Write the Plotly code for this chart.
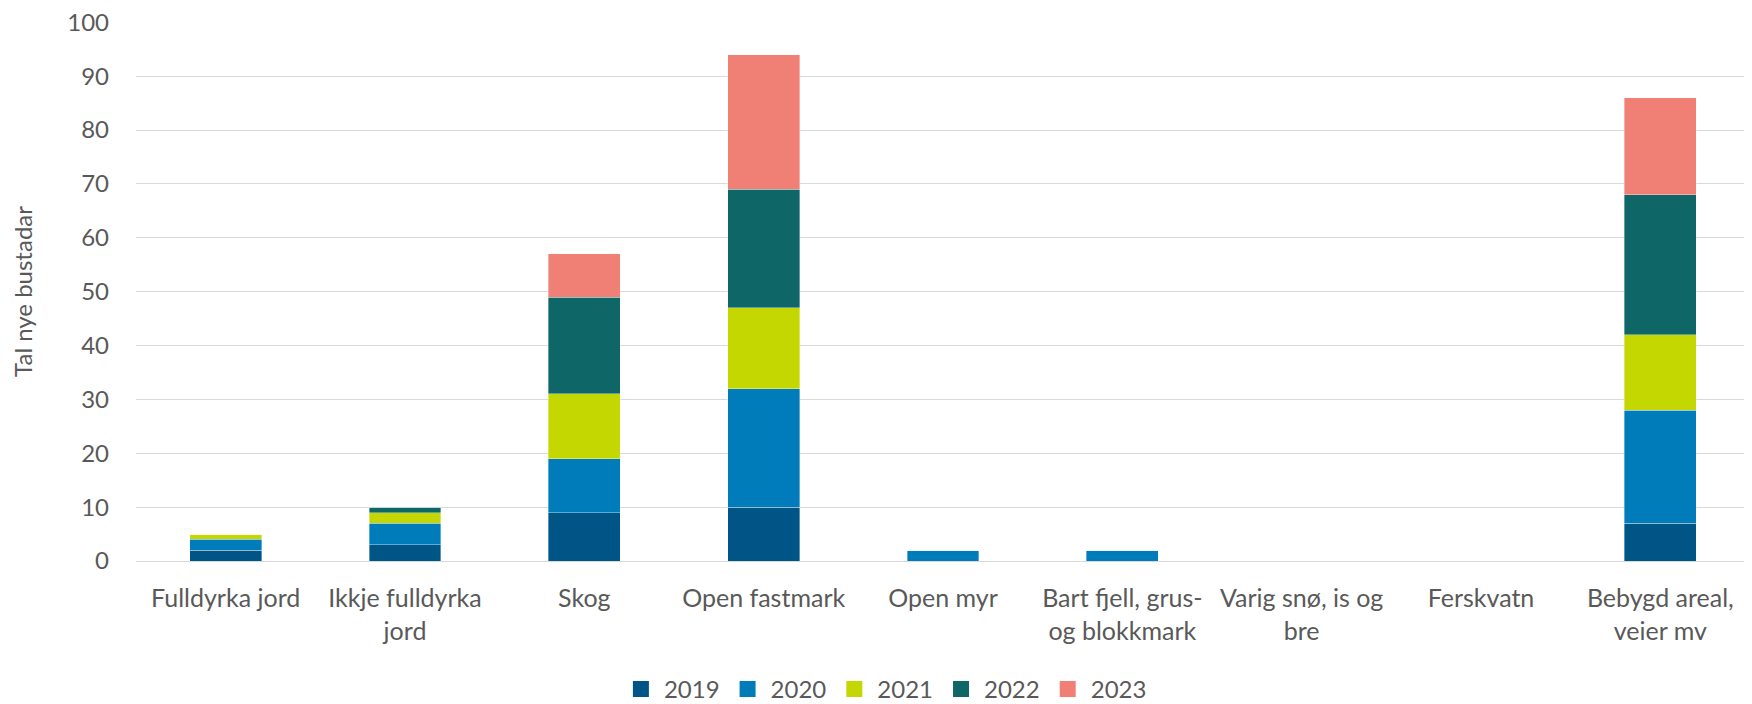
import plotly.graph_objects as go

categories = ["Fulldyrka jord", "Ikkje fulldyrka<br>jord", "Skog", "Open fastmark", "Open myr",
              "Bart fjell, grus-<br>og blokkmark", "Varig snø, is og<br>bre", "Ferskvatn",
              "Bebygd areal,<br>veier mv"]
years = ["2019", "2020", "2021", "2022", "2023"]
v2019 = [2, 3, 9, 10, 0, 0, 0, 0, 7]
v2020 = [2, 4, 10, 22, 2, 2, 0, 0, 21]
v2021 = [1, 2, 12, 15, 0, 0, 0, 0, 14]
v2022 = [0, 1, 18, 22, 0, 0, 0, 0, 26]
v2023 = [0, 0, 8, 25, 0, 0, 0, 0, 18]
series = [v2019, v2020, v2021, v2022, v2023]
colors = ["#005587", "#007CBA", "#C5D700", "#0E6666", "#F08075"]
y_ticks = [0, 10, 20, 30, 40, 50, 60, 70, 80, 90, 100]

fig = go.Figure()
for name, vals, col in zip(years, series, colors):
    fig.add_trace(go.Bar(x=categories, y=vals, name=name, marker_color=col,
                         marker_line=dict(width=0.6, color="rgba(255,255,255,0.6)"),
                         legendgroup=name, showlegend=False))
# legend entries with larger square symbols
for name, col in zip(years, colors):
    fig.add_trace(go.Scatter(x=[None], y=[None], mode="markers", name=name,
                             marker=dict(symbol="square", size=17, color=col),
                             legendgroup=name, showlegend=True))

font = "Lato, Open Sans, sans-serif"
fig.update_layout(
    barmode="stack", bargap=0.6,
    width=1744, height=696,
    margin=dict(l=128, r=2, t=14, b=143, autoexpand=False),
    plot_bgcolor="white", paper_bgcolor="white",
    font=dict(family=font, size=24, color="#595959"),
    legend=dict(orientation="h", x=0.464, xanchor="center", y=-0.238, yanchor="middle",
                font=dict(size=24, color="#595959"), itemwidth=36, traceorder="normal"),
    yaxis=dict(range=[0, 100.05], tickmode="array", tickvals=y_ticks,
               gridcolor="#D9D9D9", gridwidth=1.3, ticklabeloverflow="allow",
               zeroline=True, zerolinecolor="#D9D9D9", zerolinewidth=1.3,
               ticks="", ticklabelstandoff=26, automargin=False,
               title=dict(text="Tal nye bustadar", font=dict(size=24, color="#595959"), standoff=46)),
    xaxis=dict(showgrid=False, ticks="", tickangle=0, ticklabelstandoff=20, automargin=False,
               tickfont=dict(size=25)),
)
fig.write_html("out.html")
